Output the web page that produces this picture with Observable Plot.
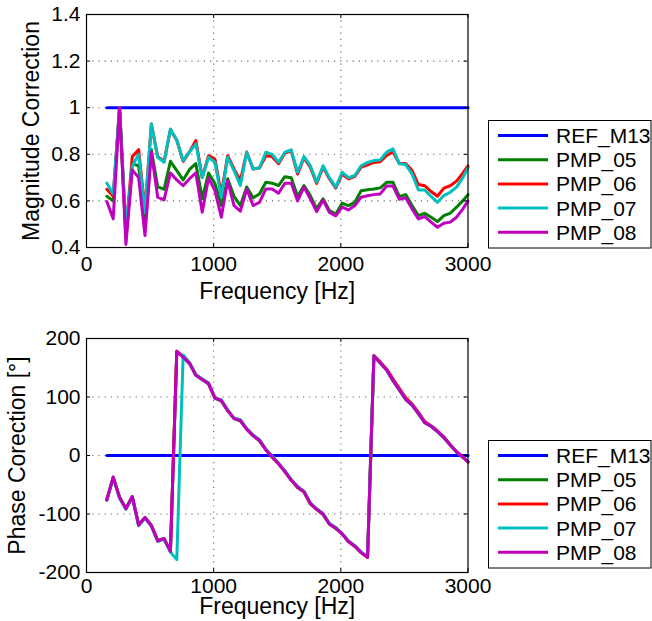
<!DOCTYPE html>
<html>
<head>
<meta charset="utf-8">
<script src="https://cdn.jsdelivr.net/npm/d3@7"></script>
<script src="https://cdn.jsdelivr.net/npm/@observablehq/plot@0.6"></script>
<style>
  body { margin: 0; background: #fff; }
  #root { position: relative; width: 652px; height: 621px; overflow: hidden; font-family: "Liberation Sans", Arial, sans-serif; }
  #top { position: absolute; left: 0; top: 0; }
  #bot { position: absolute; left: 0; top: 310px; }
</style>
</head>
<body>
<div id="root"><div id="top"></div><div id="bot"></div></div>
<script>
// ---------- data ----------
const seriesNames = ["REF_M13", "PMP_05", "PMP_06", "PMP_07", "PMP_08"];
const seriesColors = ["#0000ff", "#008000", "#ff0000", "#00bfbf", "#bf00bf"];

const freq = [160,210,260,310,360,410,460,510,560,610,660,710,760,810,860,910,960,1010,1060,1110,
  1160,1210,1260,1310,1360,1410,1460,1510,1560,1610,1660,1710,1760,1810,1860,1910,1960,2010,2060,2110,
  2160,2210,2260,2310,2360,2410,2460,2510,2560,2610,2660,2710,2760,2810,2860,2910,2960,3000];

const magRef = [1,1,1,1,1,1,1,1,1,1,1,1,1,1,1,1,1,1,1,1,1,1,1,1,1,1,1,1,1,1,
  1,1,1,1,1,1,1,1,1,1,1,1,1,1,1,1,1,1,1,1,1,1,1,1,1,1,1,1];
const magPMP05 = [0.62,0.60,1.0,0.44,0.76,0.75,0.50,0.82,0.66,0.65,0.77,0.73,0.69,0.735,0.76,0.61,0.72,0.675,0.58,0.695,
  0.62,0.58,0.66,0.613,0.63,0.68,0.676,0.666,0.704,0.699,0.619,0.666,0.623,0.566,0.609,0.559,0.544,0.59,0.58,0.594,
  0.644,0.648,0.651,0.656,0.68,0.68,0.619,0.627,0.58,0.537,0.547,0.53,0.511,0.537,0.547,0.573,0.601,0.627];
const magPMP06 = [0.65,0.62,1.0,0.47,0.79,0.82,0.56,0.93,0.79,0.77,0.905,0.86,0.77,0.81,0.859,0.70,0.794,0.78,0.63,0.794,
  0.737,0.687,0.81,0.737,0.741,0.794,0.79,0.76,0.805,0.815,0.715,0.785,0.745,0.675,0.745,0.695,0.655,0.715,0.695,0.705,
  0.745,0.755,0.765,0.768,0.795,0.81,0.76,0.76,0.73,0.67,0.665,0.64,0.62,0.655,0.665,0.685,0.72,0.75];
const magPMP07 = [0.676,0.63,1.0,0.48,0.75,0.80,0.55,0.93,0.787,0.766,0.909,0.86,0.773,0.81,0.845,0.70,0.787,0.766,0.616,0.787,
  0.73,0.666,0.809,0.737,0.741,0.809,0.80,0.766,0.809,0.819,0.723,0.79,0.751,0.68,0.751,0.70,0.659,0.723,0.70,0.709,
  0.751,0.765,0.773,0.776,0.809,0.823,0.759,0.756,0.716,0.647,0.647,0.619,0.594,0.623,0.637,0.659,0.70,0.742];
const magPMP08 = [0.597,0.523,1.0,0.413,0.733,0.70,0.451,0.81,0.616,0.604,0.72,0.69,0.665,0.695,0.72,0.551,0.699,0.644,0.53,0.687,
  0.58,0.556,0.651,0.58,0.594,0.651,0.651,0.633,0.676,0.676,0.60,0.659,0.609,0.554,0.604,0.551,0.536,0.573,0.561,0.58,
  0.616,0.622,0.627,0.63,0.664,0.664,0.607,0.613,0.566,0.523,0.533,0.509,0.487,0.504,0.509,0.53,0.566,0.60];

const phaseRef = [0,0,0,0,0,0,0,0,0,0,0,0,0,0,0,0,0,0,0,0,0,0,0,0,0,0,0,0,0,0,
  0,0,0,0,0,0,0,0,0,0,0,0,0,0,0,0,0,0,0,0,0,0,0,0,0,0,0,0];
const phasePMP05 = [-75,-37,-71,-90,-70,-118,-106,-119,-145,-142,-163,178,168,157,137,130,122,98,93,77,
  63,59,45,34,25,10,-3,-14,-28,-42,-55,-62,-83,-92,-101,-117,-125,-134,-147,-155,
  -166,-174,170,158,146,128,112,96,86,71,56,50,41,30,18,6,-3,-11];
const phasePMP06 = [-76,-38,-72,-91,-71,-119,-107,-120,-146,-143,-164,178,169,158,138,130,123,99,94,77,
  64,60,45,34,26,10,-2,-14,-27,-42,-54,-62,-82,-92,-100,-117,-124,-134,-147,-155,
  -166,-174,171,160,148,131,115,99,88,74,58,51,42,32,19,7,-2,-11];
const phasePMP07 = [-77,-38,-73,-92,-71,-120,-107,-121,-147,-143,-165,-178,172,159,138,131,124,98,95,78,
  64,61,46,35,27,11,-1,-13,-26,-41,-53,-61,-81,-91,-99,-116,-123,-133,-146,-154,
  -165,-173,170,158,146,128,112,96,86,72,56,50,41,31,18,6,-3,-11];
const phasePMP08 = [-76,-37,-72,-91,-70,-119,-106,-120,-146,-142,-164,178,168,158,137,130,123,98,94,77,
  63,60,45,34,26,10,-2,-14,-27,-42,-54,-62,-82,-92,-100,-117,-124,-134,-147,-155,
  -166,-174,170,158,146,128,112,96,86,72,56,50,41,31,18,6,-3,-11];

const xTicks = [0, 1000, 2000, 3000];
const magTicks = [0.4, 0.6, 0.8, 1, 1.2, 1.4];
const phaseTicks = [-200, -100, 0, 100, 200];

// ---------- drawing ----------
const W = 652, ML = 86, MR = 184.5;
const FONT = "Liberation Sans, Arial, Helvetica, sans-serif";

function rowsOf(valueArrays) {
  const rows = [];
  seriesNames.forEach((s, si) => freq.forEach((f, i) => rows.push({series: s, f, v: valueArrays[si][i]})));
  return rows;
}

function panel({values, yTicks, yLabel, height, marginTop, marginBottom, xTickPadding, xLabelOffset, yLabelOffset}) {
  const innerH = height - marginTop - marginBottom;
  const innerW = W - ML - MR;
  const tl = 4;
  const gridStyle = {stroke: "#000", strokeOpacity: 0.6, strokeWidth: 1.1, strokeDasharray: "1.2,5"};
  return Plot.plot({
    width: W, height, marginLeft: ML, marginRight: MR, marginTop, marginBottom,
    style: {fontFamily: FONT, fontSize: "21px", color: "#000", background: "#fff", overflow: "visible"},
    x: {domain: [xTicks[0], xTicks[xTicks.length - 1]]},
    y: {domain: [yTicks[0], yTicks[yTicks.length - 1]]},
    color: {domain: seriesNames, range: seriesColors},
    marks: [
      Plot.gridX({ticks: xTicks.slice(1, -1), ...gridStyle}),
      Plot.gridY({ticks: yTicks.slice(1, -1), ...gridStyle}),
      Plot.line(rowsOf(values), {x: "f", y: "v", z: "series", stroke: "series", strokeWidth: 3, strokeLinejoin: "round"}),
      Plot.tickX(xTicks, {x: d => d, insetTop: innerH - tl, stroke: "#000"}),
      Plot.tickX(xTicks, {x: d => d, insetBottom: innerH - tl, stroke: "#000"}),
      Plot.tickY(yTicks, {y: d => d, insetRight: innerW - tl, stroke: "#000"}),
      Plot.tickY(yTicks, {y: d => d, insetLeft: innerW - tl, stroke: "#000"}),
      Plot.frame({stroke: "#000", strokeWidth: 1.2}),
      Plot.axisX({ticks: xTicks, tickSize: 0, tickPadding: xTickPadding, tickFormat: d => String(d), label: null}),
      Plot.axisY({ticks: yTicks, tickSize: 0, tickPadding: 6, tickFormat: d => String(d), label: null}),
      Plot.axisX({ticks: [], tickSize: 0, label: "Frequency [Hz]", labelAnchor: "center", labelArrow: "none", labelOffset: xLabelOffset, fontSize: 23}),
      Plot.axisY({ticks: [], tickSize: 0, label: yLabel, labelAnchor: "center", labelArrow: "none", labelOffset: yLabelOffset, fontSize: 23})
    ]
  });
}

document.getElementById("top").append(panel({
  values: [magRef, magPMP05, magPMP06, magPMP07, magPMP08],
  yTicks: magTicks, yLabel: "Magnitude Correction",
  height: 310, marginTop: 14, marginBottom: 63, xTickPadding: 9, xLabelOffset: 51, yLabelOffset: 64
}));

document.getElementById("bot").append(panel({
  values: [phaseRef, phasePMP05, phasePMP06, phasePMP07, phasePMP08],
  yTicks: phaseTicks, yLabel: "Phase Corection [°]",
  height: 311, marginTop: 28, marginBottom: 49, xTickPadding: 6, xLabelOffset: 41, yLabelOffset: 78
}));

function legend(top) {
  const svg = d3.select("#root").append("svg")
    .attr("width", 164).attr("height", 130)
    .style("position", "absolute").style("left", "488px").style("top", top + "px");
  svg.append("rect").attr("x", 0.5).attr("y", 0.5).attr("width", 162.5).attr("height", 127.5)
    .attr("fill", "#fff").attr("stroke", "#000").attr("stroke-width", 1);
  seriesNames.forEach((n, i) => {
    const y = 15.5 + i * 24.2;
    svg.append("line").attr("x1", 10).attr("x2", 60).attr("y1", y).attr("y2", y)
      .attr("stroke", seriesColors[i]).attr("stroke-width", 3);
    svg.append("text").attr("x", 68).attr("y", y).attr("dy", "0.36em")
      .attr("font-family", FONT).attr("font-size", 21).attr("fill", "#000").text(n);
  });
}
legend(120);
legend(440);
</script>
</body>
</html>
